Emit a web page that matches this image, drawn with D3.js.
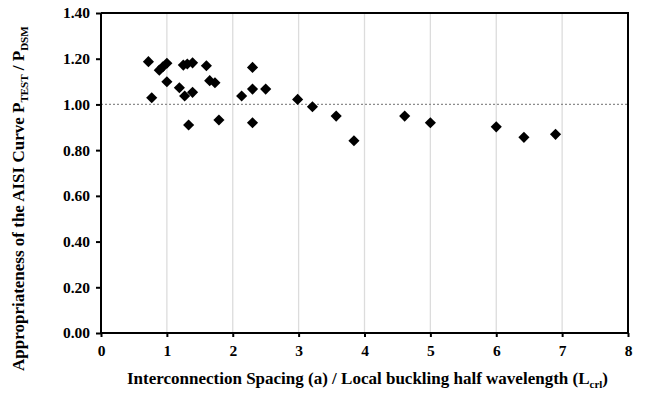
<!DOCTYPE html>
<html>
<head>
<meta charset="utf-8">
<script src="https://cdn.jsdelivr.net/npm/d3@7"></script>
<style>
  html, body { margin: 0; padding: 0; background: #fff; }
  svg { display: block; }
  text { font-family: "Liberation Serif", "Times New Roman", serif; font-weight: bold; fill: #000; }
</style>
</head>
<body>
<svg id="chart" width="648" height="393"></svg>
<script>
// Interconnection spacing ratio a / Lcrl
const spacingRatio = [
  0.72, 0.77, 0.885, 0.94, 1.00, 1.00,
  1.19, 1.25, 1.27, 1.31, 1.33, 1.39, 1.39,
  1.60, 1.65, 1.73, 1.79,
  2.135, 2.30, 2.30, 2.30, 2.50,
  2.985, 3.21, 3.57, 3.84,
  4.61, 5.00, 6.00, 6.42, 6.90
];
// Test-to-DSM strength ratio P_TEST / P_DSM
const strengthRatio = [
  1.187, 1.029, 1.150, 1.165, 1.180, 1.099,
  1.073, 1.172, 1.037, 1.177, 0.910, 1.182, 1.053,
  1.169, 1.104, 1.095, 0.932,
  1.037, 1.162, 1.067, 0.920, 1.067,
  1.022, 0.990, 0.949, 0.841,
  0.949, 0.920, 0.902, 0.856, 0.869
];
const xTicks = [0, 1, 2, 3, 4, 5, 6, 7, 8];
const yTicks = [0, 0.2, 0.4, 0.6, 0.8, 1.0, 1.2, 1.4];
const referenceLevel = 1.0;

const svg = d3.select("#chart");
const m = { left: 101, right: 20, top: 13, bottom: 60 };
const W = 648, H = 393;
const x = d3.scaleLinear().domain([0, 8]).range([m.left, W - m.right]);
const y = d3.scaleLinear().domain([0, 1.4]).range([H - m.bottom, m.top]);

// vertical gridlines
svg.append("g")
  .selectAll("line")
  .data(xTicks.slice(1, -1))
  .join("line")
  .attr("x1", d => x(d)).attr("x2", d => x(d))
  .attr("y1", y(0)).attr("y2", y(1.4))
  .attr("stroke", "#dcdcdc").attr("stroke-width", 1.3);

// reference line at 1.00
svg.append("line")
  .attr("x1", x(0)).attr("x2", x(8))
  .attr("y1", y(referenceLevel)).attr("y2", y(referenceLevel))
  .attr("stroke", "#8c8c8c").attr("stroke-width", 1.2)
  .attr("stroke-dasharray", "2,2");

// frame (top and right)
svg.append("path")
  .attr("d", `M${x(0)},${y(1.4)}H${x(8)}V${y(0)}`)
  .attr("fill", "none").attr("stroke", "#000").attr("stroke-width", 2);

// axes
const xAxis = d3.axisBottom(x).tickValues(xTicks).tickFormat(d3.format("d"))
  .tickSize(4).tickPadding(8);
const yAxis = d3.axisLeft(y).tickValues(yTicks).tickFormat(d3.format(".2f"))
  .tickSize(5).tickPadding(6);

const gx = svg.append("g").attr("transform", `translate(0,${y(0)})`).call(xAxis);
const gy = svg.append("g").attr("transform", `translate(${x(0)},0)`).call(yAxis);
[gx, gy].forEach(g => {
  g.select(".domain").attr("stroke", "#000").attr("stroke-width", 2);
  g.selectAll(".tick line").attr("stroke", "#000").attr("stroke-width", 2);
  g.selectAll(".tick text").style("font-family", '"Liberation Serif", serif')
    .style("font-weight", "bold").style("font-size", "15.5px").attr("fill", "#000");
});
gx.select(".domain").attr("d", `M${x(0)},0H${x(8)}`);
gy.select(".domain").attr("d", `M0,${y(0)}V${y(1.4)}`);

// data points (diamonds)
const pts = spacingRatio.map((v, i) => ({ a: v, r: strengthRatio[i] }));
svg.append("g")
  .selectAll("path")
  .data(pts)
  .join("path")
  .attr("d", d3.symbol().type(d3.symbolSquare).size(62))
  .attr("transform", d => `translate(${x(d.a)},${y(d.r)}) rotate(45)`)
  .attr("fill", "#000");

// x axis title
const xt = svg.append("text")
  .attr("x", (x(0) + x(8)) / 2 + 3).attr("y", 384)
  .attr("text-anchor", "middle")
  .style("font-size", "17px");
xt.append("tspan").text("Interconnection Spacing (a) / Local buckling half wavelength (L");
xt.append("tspan").attr("dy", 4).style("font-size", "11px").text("crl");
xt.append("tspan").attr("dy", -4).text(")");

// y axis title
const yt = svg.append("text")
  .attr("transform", "translate(24,371) rotate(-90)")
  .attr("text-anchor", "start")
  .style("font-size", "17px");
yt.append("tspan").text("Appropriateness of the AISI Curve P");
yt.append("tspan").attr("dy", 4).style("font-size", "11px").text("TEST");
yt.append("tspan").attr("dy", -4).text(" / P");
yt.append("tspan").attr("dy", 4).style("font-size", "11px").text("DSM");
</script>
</body>
</html>
